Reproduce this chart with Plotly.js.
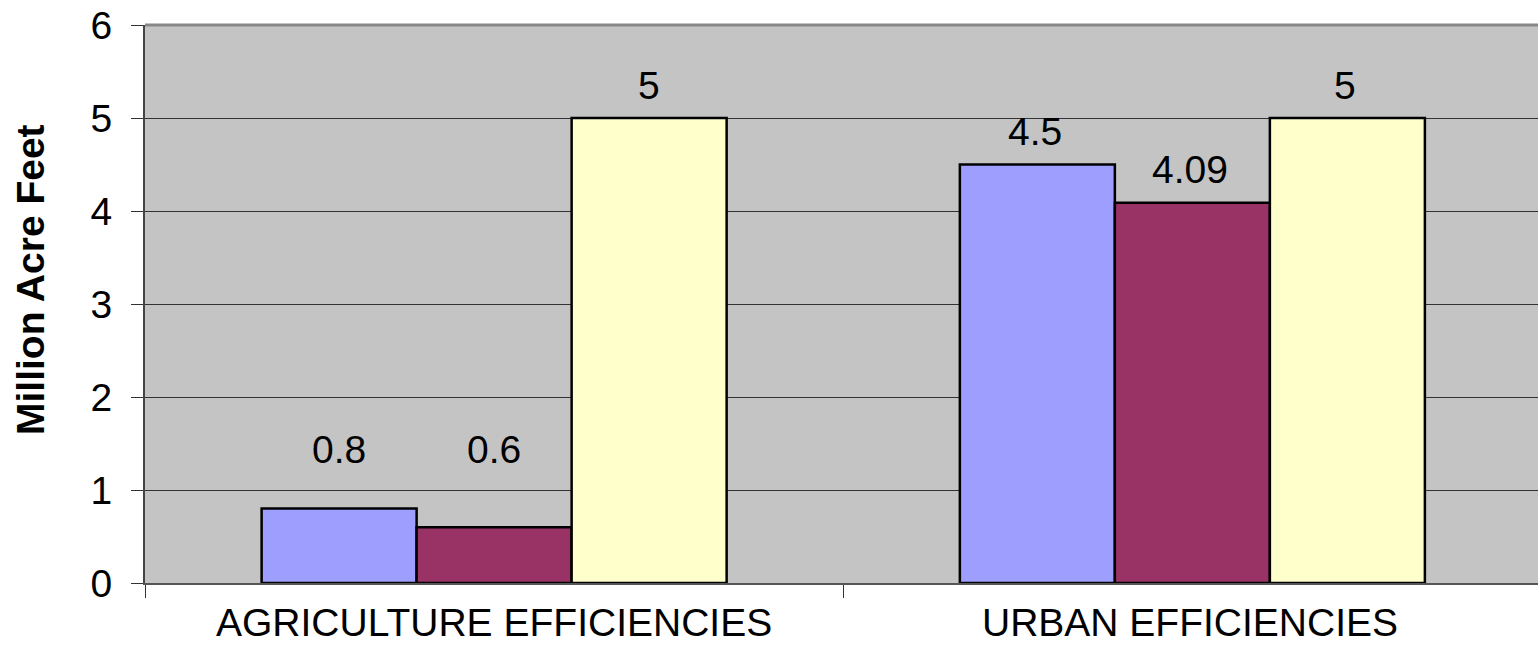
<!DOCTYPE html>
<html>
<head>
<meta charset="utf-8">
<script src="https://cdn.plot.ly/plotly-3.0.1.min.js"></script>
<style>html,body{margin:0;padding:0;background:#fff;}#chart{width:1538px;height:647px;}</style>
</head>
<body>
<div id="chart"></div>
<script>
const categories = ["AGRICULTURE EFFICIENCIES", "URBAN EFFICIENCIES"];
const series1 = [0.8, 4.5];
const series2 = [0.6, 4.09];
const series3 = [5, 5];
const seriesNames = ["Series 1", "Series 2", "Series 3"];
const seriesColors = ["#9E9EFF", "#993366", "#FFFFCC"];
const yTicks = [0, 1, 2, 3, 4, 5, 6];
const yTitle = "Million Acre Feet";

const FONT = "Liberation Sans, Arial, sans-serif";
const FS = 39;
const allSeries = [series1, series2, series3];

const traces = allSeries.map((vals, i) => ({
  type: "bar",
  name: seriesNames[i],
  x: categories,
  y: vals,
  offsetgroup: String(i),
  marker: {color: seriesColors[i], line: {color: "#000", width: 2.5}},
  hoverinfo: "skip"
}));

// data labels above bars (Excel places small-value labels a bit higher)
const annotations = [];
allSeries.forEach((vals, i) => {
  vals.forEach((v, j) => {
    annotations.push({
      x: categories[j], y: Math.max(v, 1.08), xref: "x", yref: "y",
      text: String(v), showarrow: false,
      xshift: (i - 1) * 155 - 2 * j, yshift: 33,
      font: {family: FONT, size: FS, color: "#000"}
    });
  });
});

// category labels
categories.forEach((c, j) => {
  annotations.push({
    x: c, y: 0, xref: "x", yref: "y", yanchor: "top",
    text: c, showarrow: false, yshift: -16, xshift: -2 * j,
    font: {family: FONT, size: FS, color: "#000"}
  });
});

// y-axis title (placed slightly above centre as in the original)
annotations.push({
  xref: "paper", yref: "paper", x: 0, y: 0.543,
  xanchor: "center", yanchor: "middle", xshift: -115,
  textangle: -90, showarrow: false,
  text: "<b>" + yTitle + "</b>",
  font: {family: FONT, size: FS, color: "#000"}
});

const layout = {
  width: 1538, height: 647,
  margin: {l: 145, r: 0, t: 25, b: 64, pad: 0},
  paper_bgcolor: "#fff",
  plot_bgcolor: "#C4C4C4",
  showlegend: false,
  barmode: "group",
  bargap: 0.334,
  bargroupgap: 0,
  font: {family: FONT, size: FS, color: "#000"},
  xaxis: {
    type: "category",
    range: [-0.5, 1.495],
    tickmode: "array",
    tickvals: [-0.5, 0.5],
    ticktext: ["", ""],
    ticks: "outside", ticklen: 13, tickwidth: 1, tickcolor: "#333",
    showgrid: false,
    showline: true, linecolor: "#555", linewidth: 2,
    zeroline: false,
    fixedrange: true
  },
  yaxis: {
    range: [0, 6],
    tickvals: yTicks,
    ticks: "outside", ticklen: 12, tickwidth: 1, tickcolor: "#333",
    ticklabelstandoff: 11,
    tickfont: {family: FONT, size: FS, color: "#000"},
    showgrid: true, gridcolor: "#333", gridwidth: 1,
    showline: true, linecolor: "#444", linewidth: 2,
    zeroline: false,
    fixedrange: true
  },
  annotations: annotations,
  shapes: [{
    type: "line", xref: "paper", yref: "paper", x0: 0, x1: 1, y0: 1, y1: 1,
    line: {color: "#888", width: 3}
  }]
};

Plotly.newPlot("chart", traces, layout, {staticPlot: true, displayModeBar: false});
</script>
</body>
</html>
